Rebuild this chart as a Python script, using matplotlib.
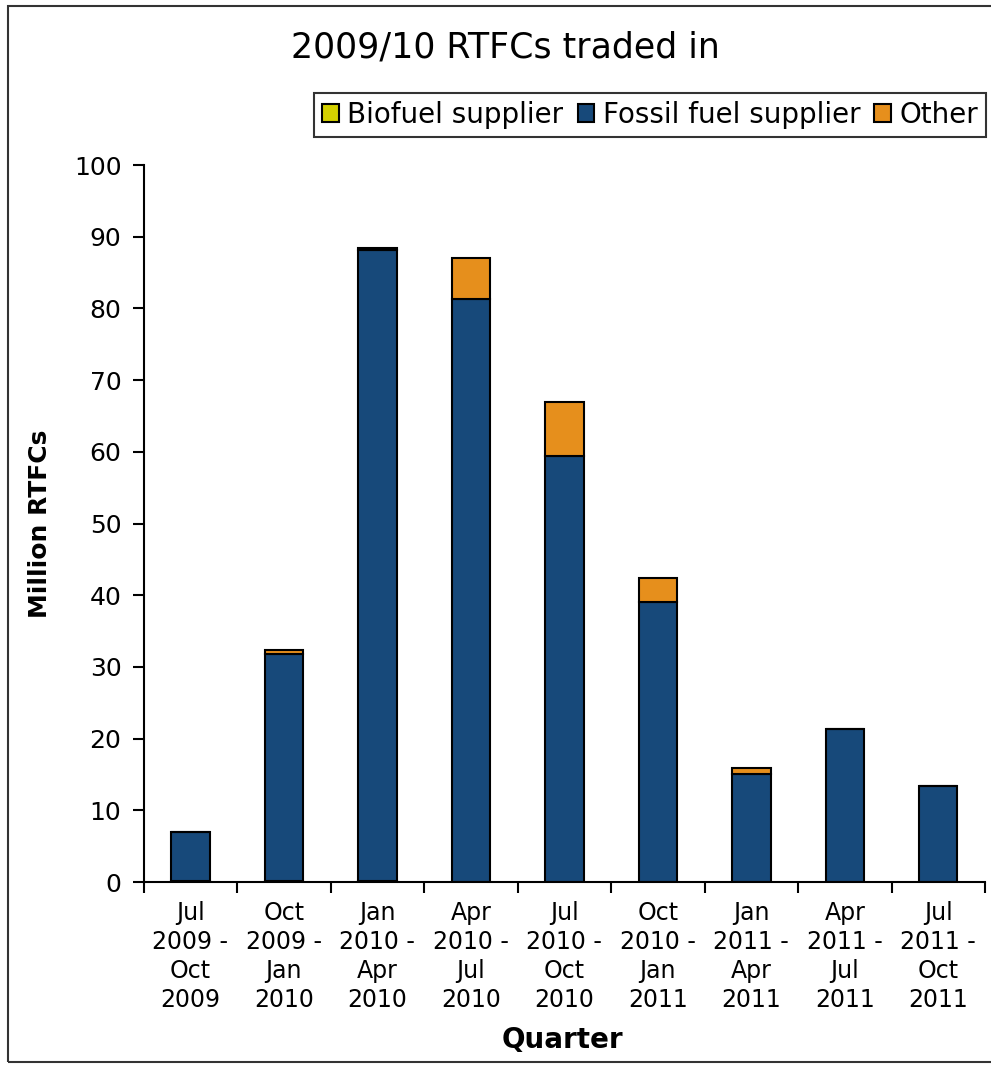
import numpy as np
import matplotlib.pyplot as plt
from matplotlib.patches import Rectangle

# dados
quarters = ['Jul\n2009 -\nOct\n2009', 'Oct\n2009 -\nJan\n2010', 'Jan\n2010 -\nApr\n2010',
            'Apr\n2010 -\nJul\n2010', 'Jul\n2010 -\nOct\n2010', 'Oct\n2010 -\nJan\n2011',
            'Jan\n2011 -\nApr\n2011', 'Apr\n2011 -\nJul\n2011', 'Jul\n2011 -\nOct\n2011']
biofuel = [0.2, 0.2, 0.2, 0.0, 0.0, 0.0, 0.0, 0.0, 0.0]
fossil = [6.8, 31.6, 87.9, 81.3, 59.4, 39.0, 15.1, 21.3, 13.4]
other = [0.0, 0.6, 0.3, 5.7, 7.5, 3.4, 0.8, 0.0, 0.0]

c_bio = '#d4d000'
c_fos = '#17497a'
c_oth = '#e68f1c'

plt.rcParams['font.family'] = ['DejaVu Sans']

fig = plt.figure(figsize=(9.91, 10.66), dpi=100)
ax = fig.add_axes([0.145, 0.1726, 0.849, 0.6726])

x = np.arange(len(quarters))
w = 0.41
b1 = np.array(biofuel)
b2 = b1 + np.array(fossil)
ax.bar(x, biofuel, w, color=c_bio, edgecolor='black', linewidth=1.5, label='Biofuel supplier')
ax.bar(x, fossil, w, bottom=b1, color=c_fos, edgecolor='black', linewidth=1.5, label='Fossil fuel supplier')
ax.bar(x, other, w, bottom=b2, color=c_oth, edgecolor='black', linewidth=1.5, label='Other')

ax.set_xlim(-0.5, len(quarters) - 0.5)
ax.set_ylim(0, 100)
ax.set_yticks(np.arange(0, 101, 10))
ax.tick_params(axis='y', labelsize=18, length=8, width=1.5, direction='out', pad=8)
ax.set_xticks(x)
ax.set_xticklabels(quarters, fontsize=17, linespacing=1.25)
ax.tick_params(axis='x', length=0, pad=14)
ax.set_xticks(np.arange(-0.5, len(quarters), 1), minor=True)
ax.tick_params(axis='x', which='minor', length=8, width=1.5, direction='out')
for s in ['top', 'right']:
    ax.spines[s].set_visible(False)
for s in ['left', 'bottom']:
    ax.spines[s].set_linewidth(1.5)

fig.text(0.040, 0.509, 'Million RTFCs', fontsize=18, fontweight='bold', rotation=90,
         ha='center', va='center')
fig.text(0.568, 0.0245, 'Quarter', fontsize=20, fontweight='bold', ha='center', va='center')
fig.text(0.51, 0.955, '2009/10 RTFCs traded in', fontsize=25, ha='center', va='center')

leg = fig.legend(loc='upper left', bbox_to_anchor=(0.303, 0.926), ncol=3, fontsize=20,
                 frameon=True, fancybox=False, edgecolor='black', handlelength=0.6,
                 handleheight=0.6, handletextpad=0.3, columnspacing=0.5, borderpad=0.3)
leg.get_frame().set_linewidth(1.5)

# moldura da figura
fig.patches.append(Rectangle((0.008, 0.004), 1.1, 0.99, transform=fig.transFigure,
                             fill=False, edgecolor='#333333', linewidth=1.5))

fig.savefig('out.png', dpi=100)
